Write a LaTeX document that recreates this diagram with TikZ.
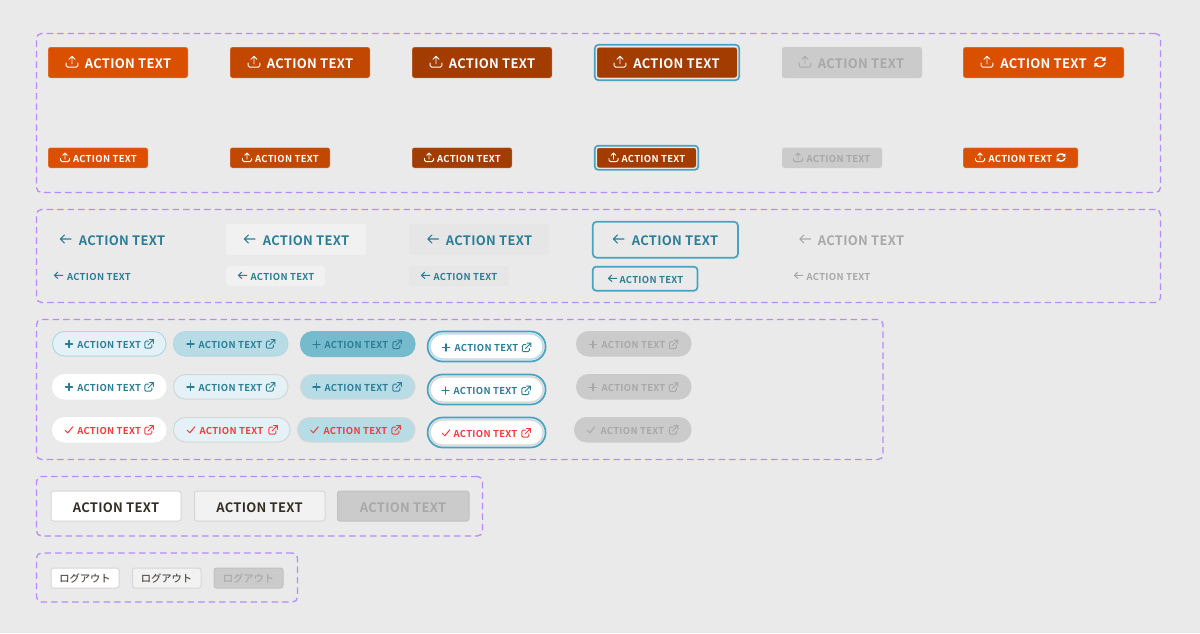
\documentclass[tikz,border=0pt]{standalone}
\usepackage{fontspec}
\newfontfamily\jpl[LetterSpace=2.3]{Noto Sans CJK JP Bold}
\newfontfamily\jps[LetterSpace=3]{Noto Sans CJK JP Bold}
\newfontfamily\jpm{Noto Sans CJK JP Medium}
\definecolor{pagebg}{HTML}{EAEAEA}
\definecolor{dashc}{HTML}{B58CFA}
\definecolor{orA}{HTML}{DB5000}
\definecolor{orB}{HTML}{C24700}
\definecolor{orC}{HTML}{A33C00}
\definecolor{dis}{HTML}{CBCBCB}
\definecolor{distxt}{HTML}{A8A8A8}
\definecolor{tealc}{HTML}{2B7D96}
\definecolor{ring}{HTML}{46A3C1}
\definecolor{pA}{HTML}{E4F2F7}
\definecolor{pB}{HTML}{B8DCE6}
\definecolor{pC}{HTML}{75BACD}
\definecolor{pedge}{HTML}{AFD9E4}
\definecolor{redc}{HTML}{F23B3B}
\definecolor{ink}{HTML}{332E26}
\definecolor{gedge}{HTML}{D4D6D7}
\newcounter{nc}
\tikzset{
  x=1pt,y=-1pt,
  panel/.style={draw=dashc,line width=1.3pt,dash pattern=on 6.5pt off 4pt,rounded corners=5pt},
  btnbase/.style={inner sep=0,outer sep=0,rounded corners=2.5pt},
  oranged/.style={btnbase,draw=white,draw opacity=.22,line width=1pt},
  plain/.style={btnbase},
  tx/.style={inner sep=0,outer sep=0,anchor=center,yshift=-.7pt},
  ic/.style={line width=#1,line cap=round,line join=round},
}
\newcommand{\bx}[5]{\stepcounter{nc}\node[#1,minimum width={(#4)-(#2)},minimum height={(#5)-(#3)}] (n\arabic{nc}) at ({((#2)+(#4))/2},{((#3)+(#5))/2}) {};}
\newcommand{\tl}[3]{\stepcounter{nc}\node[tx,text=#3] (n\arabic{nc}) at (#1,#2) {\jpl\fontsize{13}{13}\selectfont ACTION TEXT};}
\newcommand{\ts}[3]{\stepcounter{nc}\node[tx,text=#3] (n\arabic{nc}) at (#1,#2) {\jps\fontsize{9.5}{9.5}\selectfont ACTION TEXT};}
\newcommand{\tj}[3]{\stepcounter{nc}\node[tx,text=#3] (n\arabic{nc}) at (#1,#2) {\jpm\fontsize{10.3}{10.3}\selectfont ログアウト};}
\newcommand{\upl}[4]{\begin{scope}[shift={(#1,#2)},scale=#3]
\draw[ic=.95pt,#4] (0,2)--(0,-5.5) (-3,-2.7)--(0,-5.7)--(3,-2.7);
\draw[ic=.95pt,#4,rounded corners=1.5pt] (-5.8,1)--(-5.8,5.2)--(5.8,5.2)--(5.8,1);
\end{scope}}
\newcommand{\rfr}[4]{\begin{scope}[shift={(#1,#2)},scale=#3]
\draw[ic=1.4pt,#4] (-5,-1) .. controls (-4,-5) and (2,-6) .. (4.6,-2.4);
\draw[ic=1.4pt,#4] (5,1) .. controls (4,5) and (-2,6) .. (-4.6,2.4);
\fill[#4] (5.6,-5.4)--(5.6,-1)--(1.4,-1.4)--cycle;
\fill[#4] (-5.6,5.4)--(-5.6,1)--(-1.4,1.4)--cycle;
\end{scope}}
\newcommand{\arr}[4]{\begin{scope}[shift={(#1,#2)},scale=#3]
\draw[ic=1.05pt,#4] (5.5,0)--(-5,0) (-1,-4)--(-5.2,0)--(-1,4);
\end{scope}}
\newcommand{\pls}[3]{\begin{scope}[shift={(#1,#2)}]
\draw[ic=1.1pt,#3] (-3.6,0)--(3.6,0) (0,-3.6)--(0,3.6);
\end{scope}}
\newcommand{\chk}[3]{\begin{scope}[shift={(#1,#2)}]
\draw[ic=1.05pt,#3] (-3.8,0.2)--(-1.2,2.8)--(3.8,-3.2);
\end{scope}}
\newcommand{\ext}[3]{\begin{scope}[shift={(#1,#2)}]
\draw[ic=.95pt,#3,rounded corners=1.2pt] (-0.5,-2.8)--(-4.2,-2.8)--(-4.2,4.2)--(2.8,4.2)--(2.8,0.8);
\draw[ic=.95pt,#3] (-1,1)--(4.2,-4.2) (0.6,-4.4)--(4.4,-4.4)--(4.4,-0.6);
\end{scope}}
\newcommand{\pill}[6]{\bx{btnbase,fill=#1,draw=#2,line width=1pt,rounded corners=12pt}{#3}{#5}{#4}{#6}}
\newcommand{\rng}[2]{\bx{btnbase,draw=ring,line width=1.7pt,fill=pagebg,rounded corners=15pt}{427.6}{#2}{545.6}{#2+30}
\bx{btnbase,draw=#1,line width=1.4pt,fill=white,rounded corners=12pt}{430.1}{#2+2.5}{543.1}{#2+27.5}}
\begin{document}
\begin{tikzpicture}
\useasboundingbox (0,0) rectangle (1200,633);
\fill[pagebg] (0,0) rectangle (1200,633);
\bx{panel}{36.5}{33.5}{1160.5}{192.5}
\bx{panel}{36.5}{209.5}{1160.5}{302.5}
\bx{panel}{36.5}{319.5}{883}{459.5}
\bx{panel}{36.5}{476.5}{482.5}{536}
\bx{panel}{36.5}{553}{297.5}{602}
% row 1
\bx{oranged,fill=orA}{48}{47}{188}{78}\tl{128}{63}{white}\upl{72}{62}{1}{white}
\bx{oranged,fill=orB}{230}{47}{370}{78}\tl{310}{63}{white}\upl{254}{62}{1}{white}
\bx{oranged,fill=orC}{412}{47}{552}{78}\tl{492}{63}{white}\upl{436}{62}{1}{white}
\bx{btnbase,draw=ring,line width=1.7pt,fill=pagebg,rounded corners=4pt}{594.7}{44.7}{739.3}{80.3}
\bx{oranged,fill=orC,draw opacity=.7}{596.5}{47}{737.5}{78}\tl{676.5}{63}{white}\upl{620}{62}{1}{white}
\bx{plain,fill=dis}{782}{47}{922}{78}\tl{861}{63}{distxt}\upl{805}{62}{1}{distxt}
\bx{oranged,fill=orA}{963}{47}{1124}{78}\tl{1043.5}{63}{white}\upl{987}{62}{1}{white}\rfr{1100}{62}{1}{white}
% row 2
\bx{oranged,fill=orA}{48}{147.5}{148}{168}\ts{105}{158.3}{white}\upl{65}{157.5}{.78}{white}
\bx{oranged,fill=orB}{230}{147.5}{330}{168}\ts{287}{158.3}{white}\upl{247}{157.5}{.78}{white}
\bx{oranged,fill=orC}{412}{147.5}{512}{168}\ts{469}{158.3}{white}\upl{429}{157.5}{.78}{white}
\bx{btnbase,draw=ring,line width=1.7pt,fill=pagebg,rounded corners=3.5pt}{594.7}{145.7}{698.3}{169.8}
\bx{oranged,fill=orC,draw opacity=.7}{596.5}{147.5}{696.5}{168}\ts{653.5}{158.3}{white}\upl{613.5}{157.5}{.78}{white}
\bx{plain,fill=dis}{782}{147.5}{882}{168}\ts{838.5}{158.3}{distxt}\upl{798}{157.5}{.78}{distxt}
\bx{oranged,fill=orA}{963}{147.5}{1078}{168}\ts{1020.5}{158.3}{white}\upl{980}{157.5}{.78}{white}\rfr{1061}{157.5}{.78}{white}
% panel 2
\tl{122}{240}{tealc}\arr{65.5}{239}{1}{tealc}
\bx{plain,fill=white,fill opacity=.35}{226}{224}{366}{255}\tl{306}{240}{tealc}\arr{249.5}{239}{1}{tealc}
\bx{plain,fill=black,fill opacity=.015}{409}{224}{549}{255}\tl{489}{240}{tealc}\arr{433}{239}{1}{tealc}
\bx{btnbase,draw=ring,line width=1.7pt,rounded corners=4pt}{592.7}{221.7}{738}{257.7}\tl{675}{240}{tealc}\arr{618.5}{239}{1}{tealc}
\tl{861}{240}{distxt}\arr{805}{239}{1}{distxt}
\ts{99}{276.3}{tealc}\arr{58.5}{275.3}{.78}{tealc}
\bx{plain,fill=white,fill opacity=.35}{226}{266}{325}{286}\ts{282.5}{276.3}{tealc}\arr{242.5}{275.3}{.78}{tealc}
\bx{plain,fill=black,fill opacity=.015}{409}{266}{509}{286}\ts{465.5}{276.3}{tealc}\arr{425.5}{275.3}{.78}{tealc}
\bx{btnbase,draw=ring,line width=1.7pt,rounded corners=3.5pt}{592.7}{266.7}{697.5}{290.7}\ts{651.5}{279.3}{tealc}\arr{612.5}{278.3}{.78}{tealc}
\ts{838.5}{276.3}{distxt}\arr{798.5}{275.3}{.78}{distxt}
% pills row 1
\pill{pA}{pedge}{52.5}{166}{331.5}{356}\ts{109.2}{344}{tealc}\pls{69}{344}{tealc}\ext{149}{344}{tealc}
\pill{pB}{pedge}{173.5}{288}{331.5}{356}\ts{230.5}{344}{tealc}\pls{190.5}{344}{tealc}\ext{270.5}{344}{tealc}
\pill{pC}{pC}{300.5}{415}{331.5}{356.5}\ts{356.5}{344.5}{tealc}\pls{316.5}{344.5}{tealc}\ext{397}{344.5}{tealc}
\rng{pB}{331.5}\ts{486.5}{347.5}{tealc}\pls{446}{347.5}{tealc}\ext{526.5}{347.5}{tealc}
\pill{dis}{dis}{576.5}{691}{331.5}{356}\ts{633.5}{344.5}{distxt}\pls{593}{344.5}{distxt}\ext{673.5}{344.5}{distxt}
% pills row 2
\pill{white}{white}{52.5}{166}{374.5}{399}\ts{109.2}{387}{tealc}\pls{69}{387}{tealc}\ext{149}{387}{tealc}
\pill{pA}{gedge}{173.5}{288}{374.5}{399}\ts{230.5}{387}{tealc}\pls{190.5}{387}{tealc}\ext{270.5}{387}{tealc}
\pill{pB}{gedge}{300.5}{415}{374.5}{399}\ts{356.5}{387}{tealc}\pls{316.5}{387}{tealc}\ext{397}{387}{tealc}
\rng{gedge}{374.5}\ts{485.5}{390.5}{tealc}\pls{445.5}{390.5}{tealc}\ext{526}{390.5}{tealc}
\pill{dis}{dis}{576.5}{691}{374.5}{399}\ts{633.5}{387.3}{distxt}\pls{593}{387.3}{distxt}\ext{673.5}{387.3}{distxt}
% pills row 3
\pill{white}{white}{52.5}{166}{417.5}{442}\ts{109.2}{430}{redc}\chk{69}{430}{redc}\ext{149}{430}{redc}
\pill{pA}{gedge}{173.5}{290}{417.5}{442}\ts{231.5}{430}{redc}\chk{191}{430}{redc}\ext{273}{430}{redc}
\pill{pB}{gedge}{297.5}{415}{417.5}{442}\ts{355.5}{430}{redc}\chk{314.5}{430}{redc}\ext{396}{430}{redc}
\rng{gedge}{417.5}\ts{485.5}{433}{redc}\chk{446}{433}{redc}\ext{526}{433}{redc}
\pill{dis}{dis}{574.5}{691}{417.5}{442}\ts{632.5}{430}{distxt}\chk{591}{430}{distxt}\ext{673.5}{430}{distxt}
% panel 4
\bx{btnbase,fill=white,draw=gedge,line width=1pt}{51}{491}{181}{521}\tl{116}{507}{ink}
\bx{btnbase,fill=white,fill opacity=.4,draw=gedge,draw opacity=1,line width=1pt}{194.5}{491}{325}{521}\tl{259.5}{507}{ink}
\bx{btnbase,fill=dis,draw=gedge!90!black,line width=1pt}{337.5}{491}{469}{521}\tl{403}{507}{distxt}
% panel 5
\bx{btnbase,fill=white,draw=gedge,line width=1pt}{51}{568}{119}{588}\tj{85}{578}{ink!85}
\bx{btnbase,fill=white,fill opacity=.4,draw=gedge,draw opacity=1,line width=1pt}{132.5}{568}{201}{588}\tj{166.5}{578}{ink!85}
\bx{btnbase,fill=dis,draw=gedge!90!black,line width=1pt}{214}{568}{283}{588}\tj{248.5}{578}{distxt}
\end{tikzpicture}
\end{document}
